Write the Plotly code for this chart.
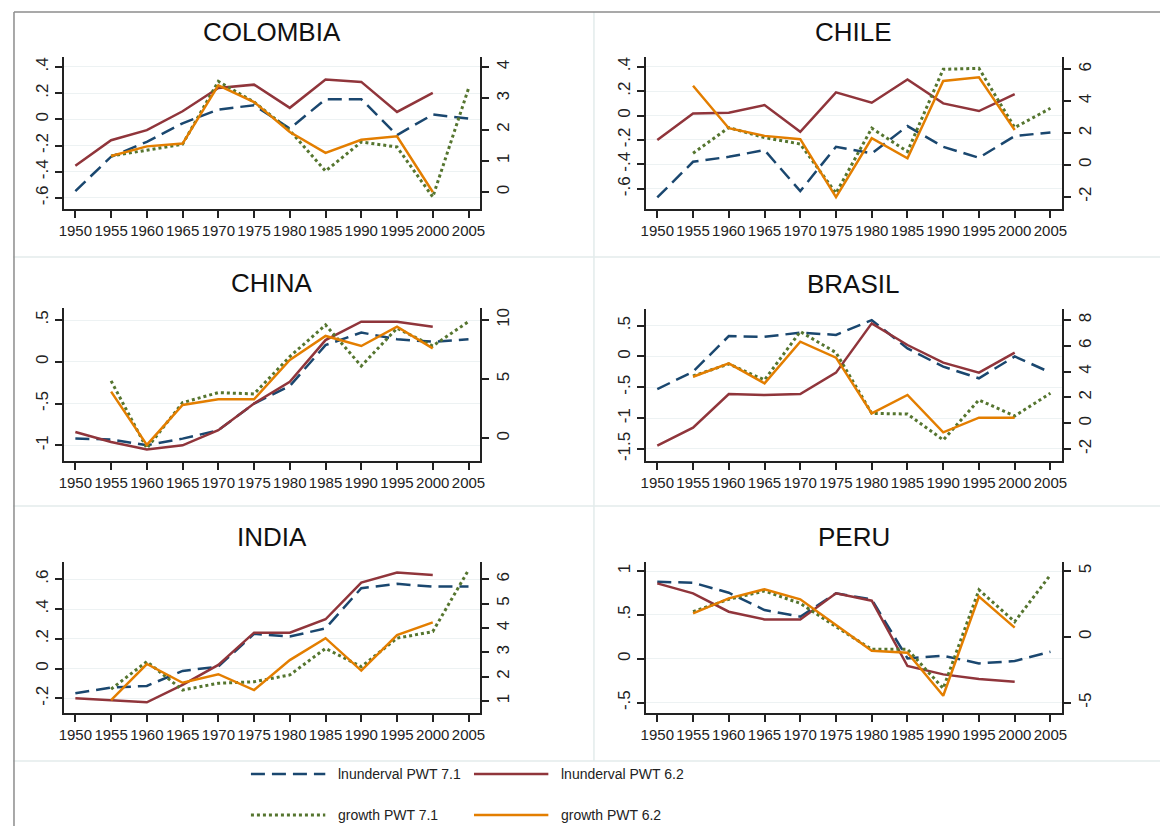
import plotly.graph_objects as go

# ---- data (lnunderval on left axis, growth on right axis)
years = [1950, 1955, 1960, 1965, 1970, 1975, 1980, 1985, 1990, 1995, 2000, 2005]

colombia_lnu71 = [-0.547, -0.285, -0.171, -0.03, 0.075, 0.108, -0.07, 0.154, 0.154, -0.12, 0.037, 0.006]
colombia_lnu62 = [-0.354, -0.159, -0.082, 0.062, 0.24, 0.265, 0.088, 0.304, 0.286, 0.057, 0.202, None]
colombia_gr71 = [None, 1.15, 1.33, 1.53, 3.54, 2.88, 1.97, 0.67, 1.6, 1.44, -0.16, 3.31]
colombia_gr62 = [None, 1.15, 1.46, 1.55, 3.41, 2.88, 1.92, 1.25, 1.67, 1.78, 0.0, None]

chile_lnu71 = [-0.671, -0.379, -0.338, -0.283, -0.619, -0.256, -0.31, -0.086, -0.256, -0.346, -0.168, -0.138]
chile_lnu62 = [-0.201, 0.017, 0.023, 0.086, -0.133, 0.19, 0.105, 0.296, 0.1, 0.037, 0.176, None]
chile_gr71 = [None, 0.73, 2.34, 1.71, 1.31, -1.78, 2.3, 0.83, 6.0, 6.06, 2.34, 3.55]
chile_gr62 = [None, 4.97, 2.3, 1.82, 1.61, -2.03, 1.67, 0.41, 5.27, 5.5, 2.19, None]

china_lnu71 = [-0.92, -0.93, -1.0, -0.92, -0.82, -0.5, -0.29, 0.2, 0.35, 0.27, 0.24, 0.27]
china_lnu62 = [-0.84, -0.96, -1.05, -1.0, -0.82, -0.5, -0.24, 0.26, 0.48, 0.48, 0.42, None]
china_gr71 = [None, 4.85, -0.85, 3.01, 3.86, 3.75, 6.9, 9.58, 6.11, 9.3, 7.8, 9.86]
china_gr62 = [None, 3.94, -0.56, 2.82, 3.3, 3.3, 6.62, 8.65, 7.8, 9.44, 7.6, None]

brasil_lnu71 = [-0.53, -0.246, 0.33, 0.32, 0.386, 0.35, 0.59, 0.13, -0.165, -0.354, 0.0, -0.26]
brasil_lnu62 = [-1.446, -1.154, -0.608, -0.624, -0.608, -0.262, 0.538, 0.186, -0.1, -0.262, 0.062, None]
brasil_gr71 = [None, 3.66, 4.59, 3.35, 7.1, 5.47, 0.76, 0.71, -1.3, 1.8, 0.56, 2.32]
brasil_gr62 = [None, 3.6, 4.64, 3.09, 6.32, 5.08, 0.76, 2.19, -0.71, 0.43, 0.43, None]

india_lnu71 = [-0.166, -0.128, -0.117, -0.016, 0.013, 0.233, 0.215, 0.27, 0.54, 0.569, 0.551, 0.551]
india_lnu62 = [-0.2, -0.216, -0.227, -0.11, 0.024, 0.241, 0.241, 0.331, 0.578, 0.645, 0.629, None]
india_gr71 = [None, 1.49, 2.62, 1.45, 1.73, 1.79, 2.07, 3.16, 2.41, 3.58, 3.85, 6.38]
india_gr62 = [None, 1.04, 2.52, 1.75, 2.1, 1.45, 2.68, 3.58, 2.25, 3.71, 4.23, None]

peru_lnu71 = [0.878, 0.867, 0.753, 0.556, 0.48, 0.746, 0.677, 0.005, 0.035, -0.052, -0.025, 0.081]
peru_lnu62 = [0.86, 0.746, 0.537, 0.449, 0.449, 0.746, 0.662, -0.082, -0.177, -0.23, -0.261, None]
peru_gr71 = [None, 1.91, 2.85, 3.48, 2.54, 0.77, -0.95, -0.95, -3.91, 3.56, 1.15, 4.7]
peru_gr62 = [None, 1.78, 2.92, 3.61, 2.85, 0.9, -1.05, -1.2, -4.47, 3.05, 0.7, None]

series_names = ["lnunderval PWT 7.1", "lnunderval PWT 6.2", "growth PWT 7.1", "growth PWT 6.2"]

# page body adds an 8px margin, so the figure is drawn 8px smaller and shifted
OFF = 8
W, H = 1168 - OFF, 826 - OFF
NAVY = "#1a476f"
MAROON = "#90353b"
GREEN = "#55752f"
ORANGE = "#e37e00"
FONT = "Liberation Sans, Arial, sans-serif"

def fx(p):
    return (p - OFF) / W

def fy(p):
    return 1 - (p - OFF) / H

styles = [
    dict(color=NAVY, width=2.5, dash="14px,7px"),
    dict(color=MAROON, width=2.5),
    dict(color=GREEN, width=3, dash="3px,3px"),
    dict(color=ORANGE, width=2.5),
]

# panel: title, data, x px span, y px span, left range/ticks, right range/ticks
panels = [
    ("COLOMBIA", [colombia_lnu71, colombia_lnu62, colombia_gr71, colombia_gr62],
     (59, 479), (57, 209), (-0.684, 0.476), [-0.6, -0.4, -0.2, 0, 0.2, 0.4],
     ["-.6", "-.4", "-.2", "0", ".2", ".4"], (-0.544, 4.32), [0, 1, 2, 3, 4]),
    ("CHILE", [chile_lnu71, chile_lnu62, chile_gr71, chile_gr62],
     (646, 1066), (57, 209), (-0.766, 0.48), [-0.6, -0.4, -0.2, 0, 0.2, 0.4],
     ["-.6", "-.4", "-.2", "0", ".2", ".4"], (-2.77, 6.77), [-2, 0, 2, 4, 6]),
    ("CHINA", [china_lnu71, china_lnu62, china_gr71, china_gr62],
     (59, 479), (308, 461), (-1.188, 0.644), [-1, -0.5, 0, 0.5],
     ["-1", "-.5", "0", ".5"], (-1.92, 11.01), [0, 5, 10]),
    ("BRASIL", [brasil_lnu71, brasil_lnu62, brasil_gr71, brasil_gr62],
     (646, 1066), (309, 461), (-1.695, 0.77), [-1.5, -1, -0.5, 0, 0.5],
     ["-1.5", "-1", "-.5", "0", ".5"], (-2.93, 8.85), [-2, 0, 2, 4, 6, 8]),
    ("INDIA", [india_lnu71, india_lnu62, india_gr71, india_gr62],
     (59, 479), (562, 713), (-0.299, 0.716), [-0.2, 0, 0.2, 0.4, 0.6],
     ["-.2", "0", ".2", ".4", ".6"], (0.507, 6.71), [1, 2, 3, 4, 5, 6]),
    ("PERU", [peru_lnu71, peru_lnu62, peru_gr71, peru_gr62],
     (646, 1066), (562, 713), (-0.617, 1.103), [-0.5, 0, 0.5, 1],
     ["-.5", "0", ".5", "1"], (-5.78, 5.68), [-5, 0, 5]),
]

fig = go.Figure()
layout = {}
annotations = []
shapes = []

axis_common = dict(
    showline=True, linecolor="#222", linewidth=1.5,
    ticks="outside", ticklen=7, tickwidth=1.5, tickcolor="#222",
    tickfont=dict(family=FONT, size=17, color="#222"),
    zeroline=False,
)

for i, (title, data, xs, ys, lrange, lticks, llabels, rrange, rticks) in enumerate(panels):
    n = i + 1
    xa = f"x{n}"
    yl = f"y{2 * n - 1}"
    yr = f"y{2 * n}"
    for k, (vals, st) in enumerate(zip(data, styles)):
        fig.add_trace(go.Scatter(
            x=years, y=vals, mode="lines", line=st, name=series_names[k],
            showlegend=False, xaxis=xa, yaxis=yl if k < 2 else yr,
        ))
    layout[f"xaxis{n}"] = dict(
        axis_common, domain=[fx(xs[0]), fx(xs[1])], anchor=yl,
        range=[1948.35, 2006.6], tickvals=years, ticktext=[str(y) for y in years],
        tickangle=0, tickfont=dict(family=FONT, size=15, color="#222"),
        showgrid=False,
    )
    layout[f"yaxis{2 * n - 1}"] = dict(
        axis_common, domain=[fy(ys[1]), fy(ys[0])], anchor=xa, range=list(lrange),
        tickvals=lticks, ticktext=llabels, tickangle=-90,
        showgrid=True, gridcolor="#edf2f3", gridwidth=1,
    )
    layout[f"yaxis{2 * n}"] = dict(
        axis_common, anchor=xa, overlaying=yl, side="right", range=list(rrange),
        tickvals=rticks, ticktext=[str(v) for v in rticks], tickangle=-90,
        showgrid=False,
    )
    annotations.append(dict(
        text=title, x=fx((xs[0] + xs[1]) / 2), y=fy(ys[0] - 25), xref="paper", yref="paper",
        showarrow=False, xanchor="center", yanchor="middle",
        font=dict(family=FONT, size=26, color="#111"),
    ))

# frame and panel separators
sep = "#e3ebeb"
shapes += [
    dict(type="line", xref="paper", yref="paper", x0=fx(594), x1=fx(594), y0=fy(12), y1=fy(761),
         line=dict(color=sep, width=1.5)),
    dict(type="line", xref="paper", yref="paper", x0=fx(8), x1=1, y0=fy(257), y1=fy(257),
         line=dict(color=sep, width=1.5)),
    dict(type="line", xref="paper", yref="paper", x0=fx(8), x1=1, y0=fy(506), y1=fy(506),
         line=dict(color=sep, width=1.5)),
    dict(type="line", xref="paper", yref="paper", x0=fx(8), x1=1, y0=fy(761), y1=fy(761),
         line=dict(color=sep, width=1.5)),
    dict(type="line", xref="paper", yref="paper", x0=fx(9), x1=fx(9), y0=fy(12), y1=0,
         line=dict(color="#8c8c8c", width=1.5)),
    dict(type="line", xref="paper", yref="paper", x0=fx(9), x1=1, y0=fy(12), y1=fy(12),
         line=dict(color="#8c8c8c", width=1.5)),
]

# legend drawn by hand (two rows, two columns)
legend_pos = [(248, 774), (473, 774), (248, 815), (473, 815)]
for name, st, (lx, ly) in zip(series_names, styles, legend_pos):
    shapes.append(dict(type="line", xref="paper", yref="paper",
                       x0=fx(lx), x1=fx(lx + 75), y0=fy(ly), y1=fy(ly), line=st))
    annotations.append(dict(
        text=name, x=fx(lx + 86), y=fy(ly), xref="paper", yref="paper",
        showarrow=False, xanchor="left", yanchor="middle",
        font=dict(family=FONT, size=14, color="#222"),
    ))

fig.update_layout(
    width=W, height=H, autosize=False,
    margin=dict(t=0, b=0, l=0, r=0),
    paper_bgcolor="white", plot_bgcolor="white",
    showlegend=False,
    annotations=annotations, shapes=shapes,
    **layout,
)

fig.write_html("out.html")
